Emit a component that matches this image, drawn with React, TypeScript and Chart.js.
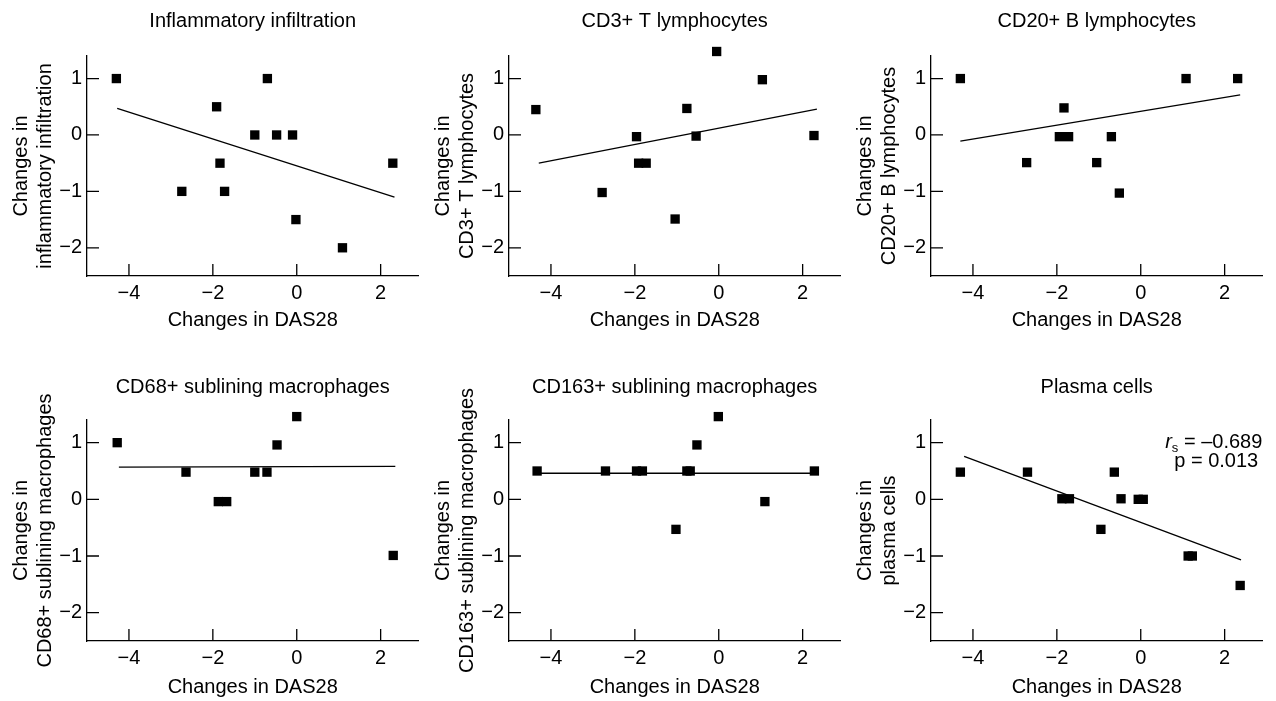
import React, { useEffect, useRef } from 'react';
import { Chart, registerables } from 'chart.js';

Chart.register(...registerables);

const FONT_FAMILY = "'Liberation Sans', Arial, sans-serif";
const FONT_SIZE = 20;

const X_TICKS = [-4, -2, 0, 2];
const Y_TICKS = [-2, -1, 0, 1];
const X_MIN = -5;
const X_MAX = 2.9;
const Y_MIN = -2.5;
const Y_MAX = 1.4;
const X_AXIS_TITLE = 'Changes in DAS28';

// Panel 1: Inflammatory infiltration
const inflX = [-4.3, -0.7, -1.91, -1.0, -0.48, -0.1, -1.83, -2.74, -1.72, -0.02, 1.09, 2.29];
const inflY = [1, 1, 0.5, 0, 0, 0, -0.5, -1, -1, -1.5, -2, -0.5];
const inflLineX = [-4.28, 2.33];
const inflLineY = [0.47, -1.1];

// Panel 2: CD3+ T lymphocytes
const cd3X = [-4.36, -0.05, 1.04, -0.76, -1.96, -0.54, 2.27, -1.91, -1.73, -2.78, -1.04];
const cd3Y = [0.45, 1.48, 0.98, 0.47, -0.03, -0.02, -0.01, -0.5, -0.5, -1.02, -1.49];
const cd3LineX = [-4.29, 2.34];
const cd3LineY = [-0.5, 0.46];

// Panel 3: CD20+ B lymphocytes
const cd20X = [-4.3, 1.08, 2.31, -1.83, -1.94, -1.72, -0.7, -2.72, -1.05, -0.51];
const cd20Y = [1, 1, 1, 0.48, -0.03, -0.03, -0.03, -0.49, -0.49, -1.03];
const cd20LineX = [-4.3, 2.37];
const cd20LineY = [-0.11, 0.71];

// Panel 4: CD68+ sublining macrophages
const cd68X = [-4.28, 0.0, -0.47, -2.64, -1.0, -0.71, -1.87, -1.67, 2.3];
const cd68Y = [1, 1.46, 0.96, 0.48, 0.48, 0.48, -0.04, -0.04, -0.99];
const cd68LineX = [-4.24, 2.35];
const cd68LineY = [0.57, 0.58];

// Panel 5: CD163+ sublining macrophages
const cd163X = [-4.33, -2.7, -1.96, -1.82, -0.76, -0.68, 2.28, -0.01, -0.52, 1.1, -1.02];
const cd163Y = [0.5, 0.5, 0.5, 0.5, 0.5, 0.5, 0.5, 1.46, 0.96, -0.04, -0.53];
const cd163LineX = [-4.33, 2.28];
const cd163LineY = [0.46, 0.46];

// Panel 6: Plasma cells
const plasmaX = [-4.3, -2.7, -1.88, -1.7, -0.63, -0.47, -0.06, 0.06, -0.95, 1.13, 1.23, 2.37];
const plasmaY = [0.48, 0.48, 0.01, 0.01, 0.48, 0.01, 0, 0, -0.53, -1.0, -1.0, -1.52];
const plasmaLineX = [-4.21, 2.39];
const plasmaLineY = [0.76, -1.07];

const RS_VALUE = '\u20130.689';
const P_TEXT = 'p = 0.013';
const RS_POS = [1.74, 1.01];
const P_POS = [1.8, 0.67];

const fmt = (v: number) => (v < 0 ? '\u2212' + Math.abs(v) : String(v));

const innerTicks = {
  id: 'innerTicks',
  afterDraw(chart: any) {
    const { ctx, chartArea, scales } = chart;
    const x = scales.x;
    const y = scales.y;
    ctx.save();
    ctx.strokeStyle = '#000';
    ctx.lineWidth = 1.3;
    ctx.beginPath();
    X_TICKS.forEach((v) => {
      const px = x.getPixelForValue(v);
      ctx.moveTo(px, chartArea.bottom);
      ctx.lineTo(px, chartArea.bottom - 12);
    });
    Y_TICKS.forEach((v) => {
      const py = y.getPixelForValue(v);
      ctx.moveTo(chartArea.left, py);
      ctx.lineTo(chartArea.left + 12, py);
    });
    ctx.stroke();
    ctx.restore();
  },
};

const panelTitle = {
  id: 'panelTitle',
  afterDraw(chart: any, _args: any, opts: any) {
    const { ctx, chartArea } = chart;
    ctx.save();
    ctx.font = `${FONT_SIZE}px ${FONT_FAMILY}`;
    ctx.fillStyle = '#000';
    ctx.textAlign = 'center';
    ctx.textBaseline = 'middle';
    ctx.fillText(opts.text, (chartArea.left + chartArea.right) / 2, chartArea.top - opts.offset);
    ctx.restore();
  },
};

const statsNote = {
  id: 'statsNote',
  afterDraw(chart: any, _args: any, opts: any) {
    if (!opts || !opts.show) return;
    const { ctx, scales } = chart;
    const x = scales.x;
    const y = scales.y;
    ctx.save();
    ctx.fillStyle = '#000';
    ctx.textBaseline = 'middle';
    ctx.textAlign = 'left';
    const main = `${FONT_SIZE}px ${FONT_FAMILY}`;
    const ital = `italic ${FONT_SIZE}px ${FONT_FAMILY}`;
    const sub = `13px ${FONT_FAMILY}`;
    const rest = ' = ' + RS_VALUE;
    ctx.font = ital;
    const wr = ctx.measureText('r').width;
    ctx.font = sub;
    const ws = ctx.measureText('s').width;
    ctx.font = main;
    const wrest = ctx.measureText(rest).width;
    const total = wr + ws + wrest;
    const cx = x.getPixelForValue(RS_POS[0]);
    const cy = y.getPixelForValue(RS_POS[1]);
    let sx = cx - total / 2;
    ctx.font = ital;
    ctx.fillText('r', sx, cy);
    sx += wr;
    ctx.font = sub;
    ctx.fillText('s', sx, cy + 6);
    sx += ws;
    ctx.font = main;
    ctx.fillText(rest, sx, cy);
    ctx.textAlign = 'center';
    ctx.fillText(P_TEXT, x.getPixelForValue(P_POS[0]), y.getPixelForValue(P_POS[1]));
    ctx.restore();
  },
};

type PanelProps = {
  title: string;
  yTitle: string[];
  xs: number[];
  ys: number[];
  lineX: number[];
  lineY: number[];
  row: number;
  col: number;
  stats?: boolean;
};

function Panel({ title, yTitle, xs, ys, lineX, lineY, row, col, stats }: PanelProps) {
  const ref = useRef<HTMLCanvasElement | null>(null);
  useEffect(() => {
    if (!ref.current) return;
    const font = { family: FONT_FAMILY, size: FONT_SIZE };
    const chart = new Chart(ref.current, {
      type: 'scatter',
      data: {
        datasets: [
          {
            data: lineX.map((v, i) => ({ x: v, y: lineY[i] })),
            showLine: true,
            borderColor: '#000',
            borderWidth: 1.3,
            pointRadius: 0,
            fill: false,
            clip: false,
          },
          {
            data: xs.map((v, i) => ({ x: v, y: ys[i] })),
            pointStyle: 'rect',
            pointRadius: 6.6,
            pointHoverRadius: 6.6,
            pointBackgroundColor: '#000',
            pointBorderWidth: 0,
            backgroundColor: '#000',
            borderColor: '#000',
            clip: false,
          },
        ],
      },
      options: {
        animation: false,
        responsive: true,
        maintainAspectRatio: false,
        events: [],
        layout: { padding: { left: 0, right: 4, top: row === 0 ? 56 : 75, bottom: 0 } },
        plugins: {
          legend: { display: false },
          tooltip: { enabled: false },
          panelTitle: { text: title, offset: row === 0 ? 35 : 33 },
          statsNote: { show: !!stats },
        } as any,
        scales: {
          x: {
            type: 'linear',
            min: X_MIN,
            max: X_MAX,
            afterBuildTicks: (s: any) => {
              s.ticks = X_TICKS.map((v) => ({ value: v }));
            },
            afterFit: (s: any) => {
              s.height = row === 0 ? 64 : 60;
            },
            grid: { display: false, drawTicks: false },
            border: { display: true, color: '#000', width: 1.3 },
            ticks: { font, color: '#000', padding: 5, callback: (v: any) => fmt(Number(v)) },
            title: {
              display: true,
              text: X_AXIS_TITLE,
              font,
              color: '#000',
              padding: { top: 0, bottom: row === 0 ? 8 : 2 },
            },
          },
          y: {
            type: 'linear',
            min: Y_MIN,
            max: Y_MAX,
            afterBuildTicks: (s: any) => {
              s.ticks = Y_TICKS.map((v) => ({ value: v }));
            },
            afterFit: (s: any) => {
              s.width = 87;
            },
            grid: { display: false, drawTicks: false },
            border: { display: true, color: '#000', width: 1.3 },
            ticks: { font, color: '#000', padding: 5, callback: (v: any) => fmt(Number(v)) },
            title: {
              display: true,
              text: yTitle,
              font,
              color: '#000',
              padding: { top: 9, bottom: 0 },
            },
          },
        },
      } as any,
      plugins: [innerTicks, panelTitle, statsNote],
    });
    return () => chart.destroy();
  }, []);

  const style: React.CSSProperties = {
    position: 'absolute',
    left: col * 422,
    top: row === 0 ? 0 : 345,
    width: 425,
    height: row === 0 ? 340 : 356,
  };
  return (
    <div style={style}>
      <canvas ref={ref} />
    </div>
  );
}

export default function App() {
  return (
    <div style={{ position: 'absolute', left: 0, top: 0, width: 1276, height: 701, background: '#fff' }}>
      <Panel title="Inflammatory infiltration" yTitle={['Changes in', 'inflammatory infiltration']} xs={inflX} ys={inflY} lineX={inflLineX} lineY={inflLineY} row={0} col={0} />
      <Panel title="CD3+ T lymphocytes" yTitle={['Changes in', 'CD3+ T lymphocytes']} xs={cd3X} ys={cd3Y} lineX={cd3LineX} lineY={cd3LineY} row={0} col={1} />
      <Panel title="CD20+ B lymphocytes" yTitle={['Changes in', 'CD20+ B lymphocytes']} xs={cd20X} ys={cd20Y} lineX={cd20LineX} lineY={cd20LineY} row={0} col={2} />
      <Panel title="CD68+ sublining macrophages" yTitle={['Changes in', 'CD68+ sublining macrophages']} xs={cd68X} ys={cd68Y} lineX={cd68LineX} lineY={cd68LineY} row={1} col={0} />
      <Panel title="CD163+ sublining macrophages" yTitle={['Changes in', 'CD163+ sublining macrophages']} xs={cd163X} ys={cd163Y} lineX={cd163LineX} lineY={cd163LineY} row={1} col={1} />
      <Panel title="Plasma cells" yTitle={['Changes in', 'plasma cells']} xs={plasmaX} ys={plasmaY} lineX={plasmaLineX} lineY={plasmaLineY} row={1} col={2} stats />
    </div>
  );
}
